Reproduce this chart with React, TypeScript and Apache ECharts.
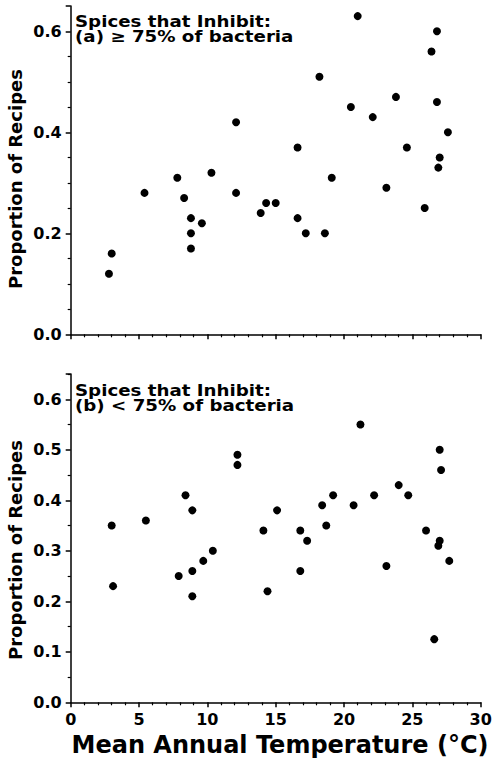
import React, { useEffect, useRef } from "react";
import * as echarts from "echarts";

// Panel (a): spices that inhibit >= 75% of bacteria
const tempA = [2.8, 3.0, 5.4, 7.8, 8.3, 8.8, 8.8, 8.8, 9.6, 10.3, 12.1, 12.1, 21.0, 26.8, 26.4, 18.2, 23.8, 26.8, 20.5, 22.1, 27.6, 16.6, 24.6, 27.0, 26.9, 19.1, 23.1, 14.3, 15.0, 13.9, 25.9, 16.6, 17.2, 18.6];
const propA = [0.12, 0.16, 0.28, 0.31, 0.27, 0.23, 0.20, 0.17, 0.22, 0.32, 0.42, 0.28, 0.63, 0.60, 0.56, 0.51, 0.47, 0.46, 0.45, 0.43, 0.40, 0.37, 0.37, 0.35, 0.33, 0.31, 0.29, 0.26, 0.26, 0.24, 0.25, 0.23, 0.20, 0.20];

// Panel (b): spices that inhibit < 75% of bacteria
const tempB = [3.0, 3.1, 5.5, 7.9, 8.4, 8.9, 8.9, 8.9, 9.7, 10.4, 12.2, 12.2, 21.2, 27.0, 27.1, 24.0, 19.2, 22.2, 24.7, 18.4, 20.7, 15.1, 18.7, 14.1, 16.8, 26.0, 17.3, 27.0, 26.9, 27.7, 23.1, 16.8, 14.4, 26.6];
const propB = [0.35, 0.23, 0.36, 0.25, 0.41, 0.38, 0.26, 0.21, 0.28, 0.30, 0.49, 0.47, 0.55, 0.50, 0.46, 0.43, 0.41, 0.41, 0.41, 0.39, 0.39, 0.38, 0.35, 0.34, 0.34, 0.34, 0.32, 0.32, 0.31, 0.28, 0.27, 0.26, 0.22, 0.125];

const xTicks = [0, 5, 10, 15, 20, 25, 30];
const titleA = ["Spices that Inhibit:", "(a) \u2265 75% of bacteria"];
const titleB = ["Spices that Inhibit:", "(b) < 75% of bacteria"];
const yTitle = "Proportion of Recipes";
const xTitle = "Mean Annual Temperature (\u00B0C)";

const FONT = "DejaVu Sans";

export default function App() {
  const ref = useRef<HTMLDivElement>(null);
  useEffect(() => {
    if (!ref.current) return;
    const chart = echarts.init(ref.current, null, { renderer: "svg" });
    const axisCommon = {
      axisLine: { show: true, onZero: false, lineStyle: { color: "#000", width: 1.5 } },
      axisTick: { show: true, inside: false, length: 5, lineStyle: { color: "#000", width: 1.5 } },
      splitLine: { show: false },
      minorSplitLine: { show: false },
    };
    const xAxisBase = (gridIndex: number, showLabel: boolean) => ({
      ...axisCommon,
      type: "value",
      gridIndex,
      min: xTicks[0],
      max: xTicks[xTicks.length - 1],
      interval: 5,
      minorTick: { show: true, splitNumber: 5, length: 3, lineStyle: { color: "#000", width: 1.2 } },
      axisLabel: {
        show: showLabel,
        margin: 9,
        color: "#000",
        fontFamily: FONT,
        fontWeight: "bold",
        fontSize: 16,
      },
    });
    const yAxisBase = (gridIndex: number, interval: number, minorSplit: number) => ({
      ...axisCommon,
      type: "value",
      gridIndex,
      min: 0,
      max: 0.65,
      interval,
      minorTick: { show: true, splitNumber: minorSplit, length: 3, lineStyle: { color: "#000", width: 1.2 } },
      axisLabel: {
        margin: 9,
        color: "#000",
        fontFamily: FONT,
        fontWeight: "bold",
        fontSize: 16,
        showMaxLabel: false,
        formatter: (v: number) => v.toFixed(1),
      },
    });
    const textStyle = (size: number) => ({
      fill: "#000",
      fontFamily: FONT,
      fontWeight: "bold",
      fontSize: size,
    });
    const panelTitle = (lines: string[], yTop: number) => ({
      type: "text",
      x: 75,
      y: yTop,
      scaleX: 1.14,
      style: {
        ...textStyle(16),
        text: lines.join("\n"),
        lineHeight: 14.5,
        align: "left",
        verticalAlign: "top",
      },
    });

    chart.setOption({
      animation: false,
      backgroundColor: "#fff",
      grid: [
        { left: 70.7, top: 6, width: 410, height: 328.3 },
        { left: 70.7, top: 374, width: 410, height: 328.3 },
      ],
      xAxis: [xAxisBase(0, false), xAxisBase(1, true)],
      yAxis: [yAxisBase(0, 0.2, 4), yAxisBase(1, 0.1, 2)],
      series: [
        {
          type: "scatter",
          xAxisIndex: 0,
          yAxisIndex: 0,
          symbol: "circle",
          symbolSize: 8,
          itemStyle: { color: "#000", opacity: 1 },
          data: tempA.map((t, i) => [t, propA[i]]),
        },
        {
          type: "scatter",
          xAxisIndex: 1,
          yAxisIndex: 1,
          symbol: "circle",
          symbolSize: 8,
          itemStyle: { color: "#000", opacity: 1 },
          data: tempB.map((t, i) => [t, propB[i]]),
        },
      ],
      graphic: [
        panelTitle(titleA, 14.5),
        panelTitle(titleB, 383.5),
        {
          type: "text",
          x: 15,
          y: 179,
          rotation: Math.PI / 2,
          style: { ...textStyle(18), text: yTitle, align: "center", verticalAlign: "middle" },
        },
        {
          type: "text",
          x: 15,
          y: 550,
          rotation: Math.PI / 2,
          style: { ...textStyle(18), text: yTitle, align: "center", verticalAlign: "middle" },
        },
        {
          type: "text",
          x: 280,
          y: 745,
          style: { ...textStyle(24), text: xTitle, align: "center", verticalAlign: "middle" },
        },
      ],
    });
    return () => chart.dispose();
  }, []);
  return (
    <div
      ref={ref}
      style={{ position: "fixed", left: 0, top: 0, width: 495, height: 766, background: "#fff" }}
    />
  );
}
